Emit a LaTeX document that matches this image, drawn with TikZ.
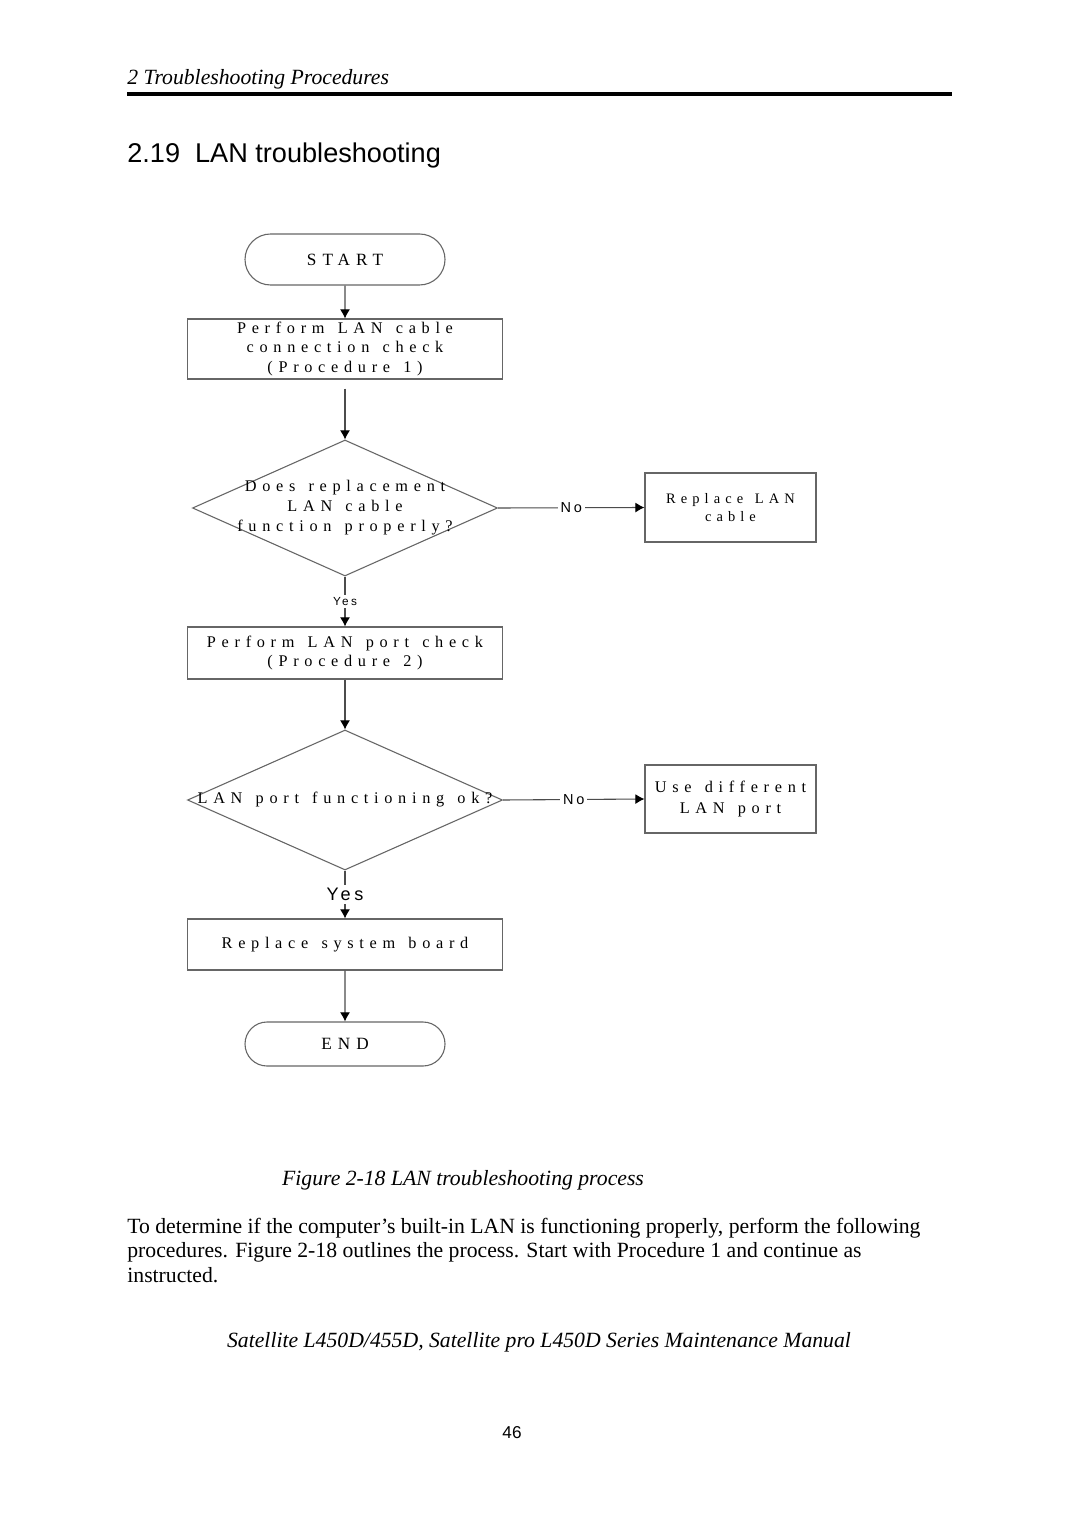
\documentclass[tikz,border=0pt]{standalone}
\usepackage{fontspec}
\setmainfont{Liberation Serif}
\setsansfont{Liberation Sans}
\newfontfamily\chartfont[LetterSpace=35,WordSpace=1.35]{Liberation Serif}
\newfontfamily\chartsans[LetterSpace=20]{Liberation Sans}
\usetikzlibrary{shapes.geometric,shapes.misc,arrows.meta}
\def\px{0.5528pt}

\begin{document}
\begin{tikzpicture}[x=\px, y=-\px,
  box/.style={rectangle, draw=black!60, line width=0.6pt, inner sep=0pt, align=center,
    font=\chartfont\fontsize{9}{11}\selectfont},
  term/.style={rounded rectangle, draw=black!60, line width=0.6pt, inner sep=0pt,
    minimum width=200*\px, font=\chartfont\fontsize{9.5}{11}\selectfont},
  decision/.style={diamond, draw=black!60, line width=0.6pt, inner sep=0pt},
  qtext/.style={align=center, inner sep=0pt, font=\chartfont\fontsize{9}{11}\selectfont},
  flow/.style={draw=black!70, line width=0.6pt, -{Latex[black,length=5pt,width=5.5pt]}},
  lbl/.style={fill=white, inner sep=1.5pt, font=\chartsans\fontsize{8}{8}\selectfont},
  txt/.style={inner sep=0pt, font=\fontsize{12}{14}\selectfont}]

 \useasboundingbox (0,0) rectangle (1080,1527);
 \fill[white] (0,0) rectangle (1080,1527);

 %page head
 \node[txt, anchor=base west, font=\itshape\fontsize{12}{14}\selectfont] (head) at (127,85) {2 Troubleshooting Procedures};
 \draw[line width=2.2pt] (127,94) -- (952,94);
 \node[txt, anchor=base west, font=\sffamily\fontsize{15}{17}\selectfont] (title) at (127,163) {2.19\hspace{0.55em}LAN troubleshooting};

 %main column
 \node[term, minimum height=51*\px] (start) at (345,259.5) {START};
 \node[box, minimum width=315*\px, minimum height=60*\px] (chk1) at (345,349) {Perform LAN cable\\connection check\\(Procedure 1)};
 \node[decision, minimum width=305*\px, minimum height=136*\px,
   label={[qtext]center:{Does replacement\\LAN cable\\function properly?}}] (q1) at (345,508) {};
 \node[box, minimum width=315*\px, minimum height=52*\px] (chk2) at (345,653) {Perform LAN port check\\(Procedure 2)};
 \node[decision, minimum width=315*\px, minimum height=140*\px,
   label={[qtext]center:{LAN port functioning ok?}}] (q2) at (345,800) {};
 \node[box, minimum width=315*\px, minimum height=51*\px] (board) at (345,944.5) {Replace system board};
 \node[term, minimum height=44*\px] (end) at (345,1044) {END};

 %side boxes
 \node[box, minimum width=171*\px, minimum height=69*\px, font=\chartfont\fontsize{8}{10}\selectfont] (repl) at (730.5,507.5) {Replace LAN\\cable};
 \node[box, minimum width=171*\px, minimum height=68*\px, font=\chartfont\fontsize{9}{11.6}\selectfont] (usep) at (730.5,799) {Use different\\LAN port};

 %arrows
 \draw[flow] (start) -- (chk1);
 \draw[flow, shorten <=5pt] (chk1) -- (q1.north);
 \draw[flow] (q1.east) -- node[lbl] {No} (repl.west);
 \draw[flow] (q1.south) -- node[lbl, font=\chartsans\fontsize{6.5}{7}\selectfont] {Yes} (chk2.north);
 \draw[flow] (chk2) -- (q2.north);
 \draw[flow] (q2.east) -- node[lbl] {No} (usep.west);
 \draw[flow] (q2.south) -- node[lbl, font=\chartsans\fontsize{10}{10}\selectfont] {Yes} (board.north);
 \draw[flow] (board) -- (end);

 %caption and text
 \node[txt, anchor=base, font=\itshape\fontsize{12}{14}\selectfont] (cap) at (463,1185) {Figure 2-18 LAN troubleshooting process};
 \foreach \i/\line in {0/{To determine if the computer’s built-in LAN is functioning properly, perform the following},
   1/{procedures. Figure 2-18 outlines the process. Start with Procedure 1 and continue as},
   2/{instructed.}} {
    \node[txt, anchor=base west] (par\i) at (127,1233+24.5*\i) {\line};
 }
 \node[txt, anchor=base, font=\itshape\fontsize{12}{14}\selectfont] (foot) at (539,1347) {Satellite L450D/455D, Satellite pro L450D Series Maintenance Manual};
 \node[txt, anchor=base, font=\sffamily\fontsize{9.5}{11}\selectfont] (pgno) at (512,1438) {46};

\end{tikzpicture}
\end{document}
